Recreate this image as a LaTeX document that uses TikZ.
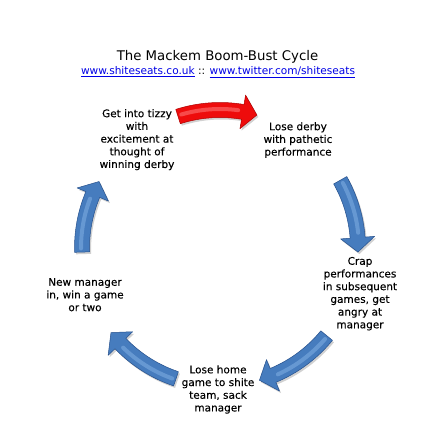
\documentclass[tikz,border=0pt]{standalone}
\usepackage{fontspec}
\setmainfont{DejaVu Sans}
\newfontfamily\lblfont[FakeBold=0.15]{DejaVu Sans}
\definecolor{bluemain}{RGB}{70,124,190}
\definecolor{bluedark}{RGB}{38,80,140}
\definecolor{bluelight}{RGB}{130,175,228}
\definecolor{redmain}{RGB}{238,12,12}
\definecolor{reddark}{RGB}{175,0,0}
\definecolor{redlight}{RGB}{255,125,125}
\definecolor{linkblue}{RGB}{0,0,230}
% #1 tail angle, #2 tip angle, #3 main, #4 dark, #5 light
\newcommand\cyclearrow[5]{%
  \fill[black,opacity=0.18,shift={(1.5pt,-2pt)}]
    (#1:145.5pt) arc[start angle=#1, end angle={#2+6}, radius=145.5pt]
    -- ({#2+6}:155pt) -- (#2:138pt) -- ({#2+6}:121pt) -- ({#2+6}:130.5pt)
    arc[start angle={#2+6}, end angle=#1, radius=130.5pt] -- cycle;
  \fill[#3,draw=#4,line width=0.5pt,line join=round]
    (#1:145.5pt) arc[start angle=#1, end angle={#2+6}, radius=145.5pt]
    -- ({#2+6}:155pt) -- (#2:138pt) -- ({#2+6}:121pt) -- ({#2+6}:130.5pt)
    arc[start angle={#2+6}, end angle=#1, radius=130.5pt] -- cycle;
  \draw[#5,line width=4pt,opacity=0.55,line cap=round]
    ({#1-1.5}:139pt) arc[start angle={#1-1.5}, end angle={#2+8}, radius=139pt];
}
\begin{document}
\begin{tikzpicture}[x=1pt,y=1pt,
  lbl/.style={align=center,font=\lblfont\fontsize{10.5}{12.7}\selectfont,inner sep=0pt}]
\useasboundingbox[fill=white] (0,0) rectangle (438,446);
\node[anchor=base,font=\fontsize{13.3}{15}\selectfont] (title) at (217.5,385.3) {The Mackem Boom-Bust Cycle};
\node[anchor=base,font=\fontsize{10.55}{12}\selectfont] (links) at (218,371)
  {\textcolor{linkblue}{\underline{www.shiteseats.co.uk}} :: \textcolor{linkblue}{\underline{www.twitter.com/shiteseats}}};
\begin{scope}[shift={(220,198)}]
  \cyclearrow{107.7}{74.5}{redmain}{reddark}{redlight}
  \cyclearrow{29.4}{-1.7}{bluemain}{bluedark}{bluelight}
  \cyclearrow{-39.4}{-73.4}{bluemain}{bluedark}{bluelight}
  \cyclearrow{-108.6}{-142.2}{bluemain}{bluedark}{bluelight}
  \cyclearrow{181.7}{151.2}{bluemain}{bluedark}{bluelight}
\end{scope}
\node[lbl] (tizzy) at (137,306.3) {Get into tizzy\\with\\excitement at\\thought of\\winning derby};
\node[lbl] (derby) at (298,306) {Lose derby\\with pathetic\\performance};
\node[lbl] (crap) at (360,152.3) {Crap\\performances\\in subsequent\\games, get\\angry at\\manager};
\node[lbl] (home) at (218,56.5) {Lose home\\game to shite\\team, sack\\manager};
\node[lbl] (newman) at (85,151.3) {New manager\\in, win a game\\or two};
\end{tikzpicture}
\end{document}
